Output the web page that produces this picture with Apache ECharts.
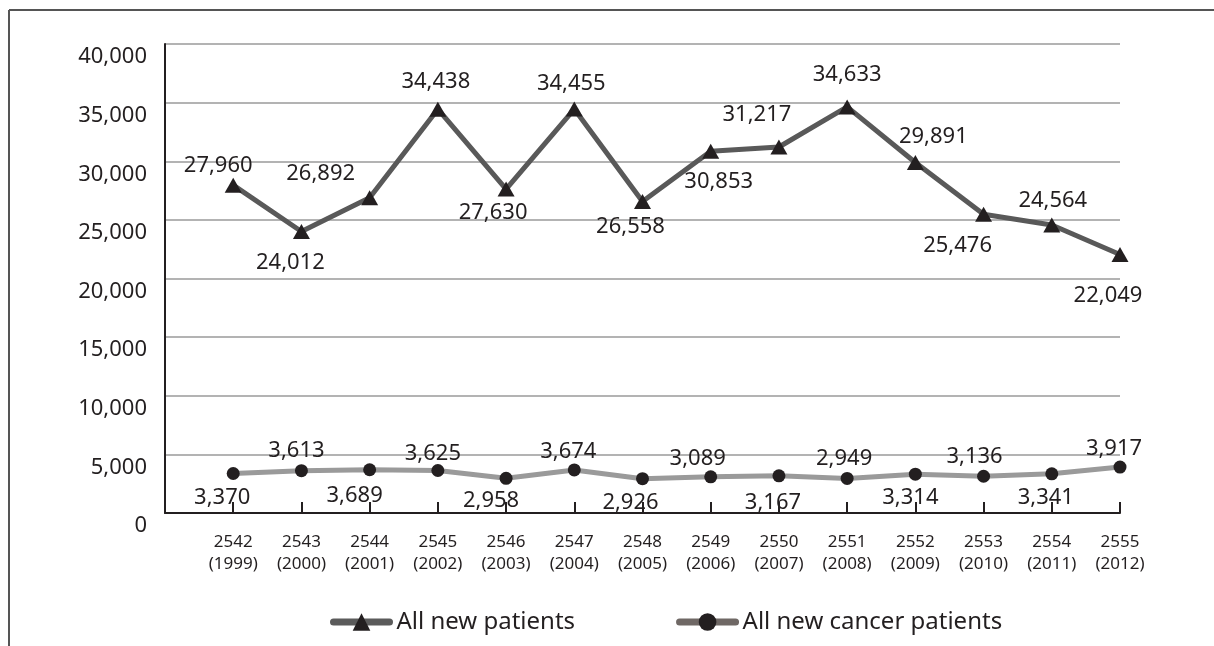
<!DOCTYPE html>
<html>
<head>
<meta charset="utf-8">
<script src="https://cdn.jsdelivr.net/npm/echarts@6/dist/echarts.min.js"></script>
<style>
html,body{margin:0;padding:0;background:#fff;}
#chart{width:1214px;height:646px;}
</style>
</head>
<body>
<div id="chart"></div>
<script>
// ---- data ----
const yearsBE = ['2542','2543','2544','2545','2546','2547','2548','2549','2550','2551','2552','2553','2554','2555'];
const yearsCE = ['1999','2000','2001','2002','2003','2004','2005','2006','2007','2008','2009','2010','2011','2012'];
const allNewPatients = [27960, 24012, 26892, 34438, 27630, 34455, 26558, 30853, 31217, 34633, 29891, 25476, 24564, 22049];
const allNewCancerPatients = [3370, 3613, 3689, 3625, 2958, 3674, 2926, 3089, 3167, 2949, 3314, 3136, 3341, 3917];
const seriesNames = ['All new patients', 'All new cancer patients'];
const yTicks = [0, 5000, 10000, 15000, 20000, 25000, 30000, 35000, 40000];

// ---- label placement (style only, px offsets from each marker) ----
const labelShift1 = [[-15,-19],[-11,31],[-49,-24],[-2,-27],[-13,24],[-3,-25],[-12,25],[8,30],[-22,-32],[0,-32],[18,-26],[-26,31],[1,-24],[-12,41]];
const labelShift2 = [[-11,24],[-5,-20],[-15,26],[-5,-17],[-15,22],[-6,-18],[-12,24],[-13,-18],[-6,27],[-3,-20],[-5,24],[-9,-19],[-6,24],[-6,-18]];

const FONT = 'Noto Sans';
const TXT = '#231f20';
const fmt = v => Number(v).toLocaleString('en-US');

// leading empty slot so the first year sits one step right of the y-axis
const categories = [''].concat(yearsBE.map((b, i) => b + '\n(' + yearsCE[i] + ')'));
const build = vals => [null].concat(vals);
const shifter = shifts => params => {
  const s = shifts[params.dataIndex - 1] || [0, 0];
  return { dx: s[0], dy: s[1], hideOverlap: false };
};

const chart = echarts.init(document.getElementById('chart'), null, { renderer: 'canvas' });
chart.setOption({
  animation: false,
  backgroundColor: '#fff',
  textStyle: { fontFamily: FONT, color: TXT },
  graphic: [
    { type: 'line', shape: { x1: 9, y1: 10, x2: 1214, y2: 10 }, style: { stroke: '#555', lineWidth: 2 } },
    { type: 'line', shape: { x1: 9, y1: 10, x2: 9, y2: 646 }, style: { stroke: '#555', lineWidth: 2 } }
  ],
  grid: { left: 165, right: 94, top: 44, bottom: 133, containLabel: false },
  legend: {
    left: 325, top: 605,
    itemWidth: 56, itemHeight: 22, itemGap: 101,
    textStyle: { fontFamily: FONT, fontSize: 24, color: TXT, padding: [0, 0, 0, 2] },
    data: [
      { name: seriesNames[0], itemStyle: { color: TXT }, lineStyle: { color: '#5b5b5b', width: 7, cap: 'round' } },
      { name: seriesNames[1], itemStyle: { color: TXT }, lineStyle: { color: '#6f6865', width: 7, cap: 'round' } }
    ]
  },
  xAxis: {
    type: 'category',
    data: categories,
    boundaryGap: false,
    axisLine: { lineStyle: { color: TXT, width: 2 } },
    axisTick: { show: true, inside: true, length: 11, interval: 0, lineStyle: { color: TXT, width: 2 } },
    axisLabel: { interval: 0, fontFamily: FONT, fontSize: 17, lineHeight: 22, color: TXT, margin: 18 },
    splitLine: { show: false }
  },
  yAxis: {
    type: 'value',
    min: yTicks[0], max: yTicks[yTicks.length - 1], interval: yTicks[1] - yTicks[0],
    axisLine: { show: true, lineStyle: { color: TXT, width: 2 } },
    axisTick: { show: false },
    axisLabel: { formatter: fmt, fontFamily: FONT, fontSize: 22, color: TXT, margin: 18, verticalAlign: 'top', padding: [2, 0, 0, 0] },
    splitLine: { lineStyle: { color: '#b3b3b3', width: 2 } }
  },
  series: [
    {
      name: seriesNames[0], type: 'line', z: 3,
      data: build(allNewPatients),
      symbol: 'triangle', symbolSize: [17, 15],
      itemStyle: { color: TXT },
      lineStyle: { color: '#595959', width: 5 },
      label: { show: true, position: 'inside', align: 'center', verticalAlign: 'middle', formatter: p => fmt(p.value), fontFamily: FONT, fontSize: 22, color: TXT },
      labelLayout: shifter(labelShift1)
    },
    {
      name: seriesNames[1], type: 'line', z: 2,
      data: build(allNewCancerPatients),
      symbol: 'circle', symbolSize: 13,
      itemStyle: { color: TXT },
      lineStyle: { color: '#9a9a9a', width: 5 },
      label: { show: true, position: 'inside', align: 'center', verticalAlign: 'middle', formatter: p => fmt(p.value), fontFamily: FONT, fontSize: 22, color: TXT },
      labelLayout: shifter(labelShift2)
    }
  ]
});
</script>
</body>
</html>
